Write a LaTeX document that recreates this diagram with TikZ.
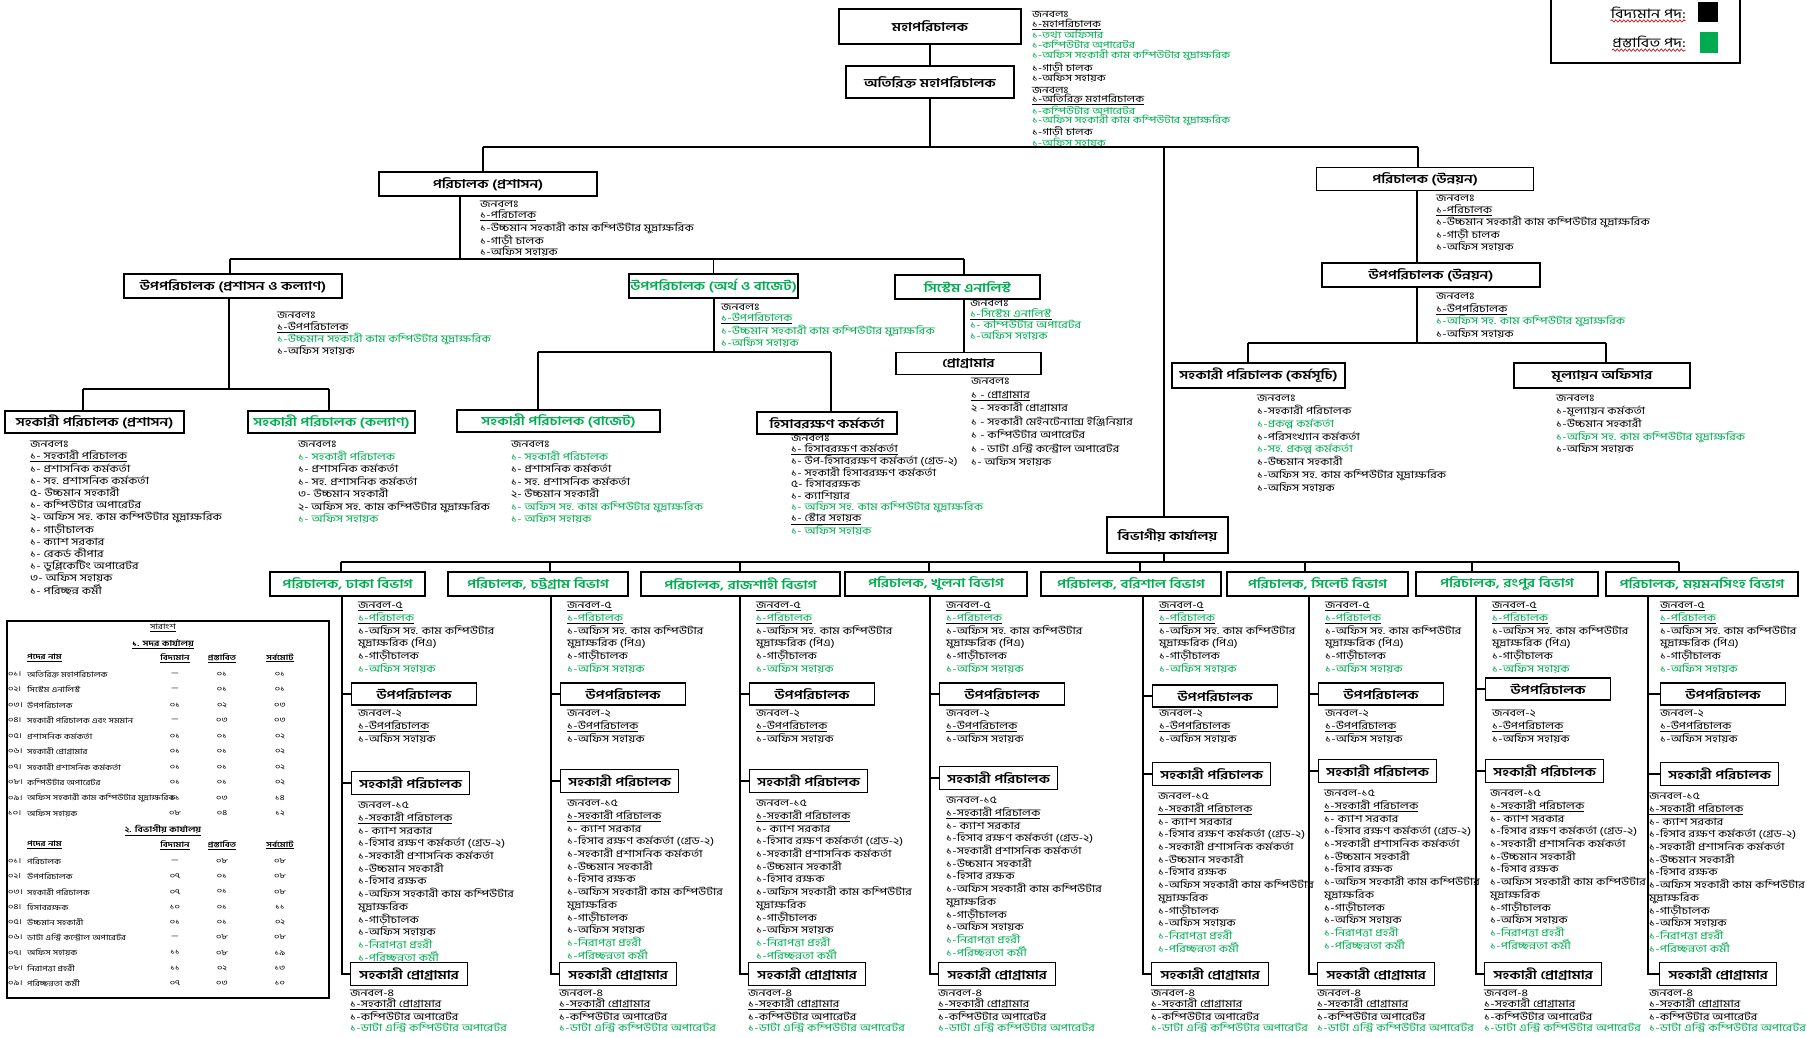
\documentclass[tikz,border=0pt]{standalone}
\usepackage{fontspec}
\setmainfont[Script=Bengali, FakeStretch=1.25]{Hind Siliguri}
\usetikzlibrary{positioning,decorations.pathmorphing}
\definecolor{ngreen}{RGB}{0,170,80}
\newcommand\grn[1]{\textcolor{ngreen}{#1}}

\tikzset{
  post/.style={draw, line width=1.4pt, inner sep=1pt, font=\fontsize{12}{13}\selectfont\bfseries},
  newpost/.style={post, text=ngreen},
  staff/.style={anchor=north west, align=left, inner sep=0pt, font=\fontsize{10}{12.7}\selectfont},
  tightstaff/.style={staff, font=\fontsize{9.5}{10}\selectfont},
  link/.style={line width=1.3pt},
  tblcell/.style={inner sep=0pt, font=\fontsize{7.5}{9}\selectfont},
}

\begin{document}
\begin{tikzpicture}[x=1pt, y=-1pt]
\useasboundingbox (0,0) rectangle (1807,1038);

% legend
\node[draw, line width=2.2pt, minimum width=189pt, minimum height=75pt, inner sep=0pt] (legend) at (1645.5,25.5) {};
\node[tblcell, anchor=east, font=\fontsize{13}{14}\selectfont] (oldlbl) at (1686,13) {বিদ্যমান পদ:};
\node[fill=black, minimum size=20pt, inner sep=0pt] (oldkey) at (1708,12) {};
\node[tblcell, anchor=east, font=\fontsize{13}{14}\selectfont] (newlbl) at (1686,42) {প্রস্তাবিত পদ:};
\node[fill=ngreen, minimum width=18pt, minimum height=21pt, inner sep=0pt] (newkey) at (1709,42.5) {};
\draw[red!75!black, line width=0.6pt, decorate, decoration={snake, amplitude=1.2pt, segment length=4pt}]
  ([yshift=-2pt]oldlbl.south west) -- ([yshift=-2pt]oldlbl.south east);
\draw[red!75!black, line width=0.6pt, decorate, decoration={snake, amplitude=1.2pt, segment length=4pt}]
  ([yshift=-2pt]newlbl.south west) -- ([yshift=-2pt]newlbl.south east);

% head office
\node[post, minimum width=182pt, minimum height=35pt, font=\fontsize{12}{13}\selectfont\bfseries] (dg) at (930,26.5) {মহাপরিচালক};
\node[post, minimum width=168pt, minimum height=32pt, font=\fontsize{12}{13}\selectfont\bfseries] (adg) at (930,82) {অতিরিক্ত মহাপরিচালক};
\node[tightstaff] (dgstaff) at (1032,11) {জনবলঃ\\ \underline{১-মহাপরিচালক}\\ \grn{১-তথ্য অফিসার}\\ \grn{১-কম্পিউটার অপারেটর}\\ \grn{১-অফিস সহকারী কাম কম্পিউটার মুদ্রাক্ষরিক}\\ ১-গাড়ী চালক\\ ১-অফিস সহায়ক};
\node[tightstaff, font=\fontsize{9.5}{9.2}\selectfont] (adgstaff) at (1032,87) {জনবলঃ\\ \underline{১-অতিরিক্ত মহাপরিচালক}\\ \grn{১-কম্পিউটার অপারেটর}\\ \grn{১-অফিস সহকারী কাম কম্পিউটার মুদ্রাক্ষরিক}\\ ১-গাড়ী চালক\\ \grn{১-অফিস সহায়ক}};

\node[post, minimum width=218pt, minimum height=24pt] (diradm) at (488,184) {পরিচালক (প্রশাসন)};
\node[post, minimum width=217pt, minimum height=23pt] (dirdev) at (1425,179) {পরিচালক (উন্নয়ন)};
\node[staff, font=\fontsize{10}{11}\selectfont] (diradmstaff) at (480,201) {জনবলঃ\\ \underline{১-পরিচালক}\\ ১-উচ্চমান সহকারী কাম কম্পিউটার মুদ্রাক্ষরিক\\ ১-গাড়ী চালক\\ ১-অফিস সহায়ক};
\node[staff, font=\fontsize{10}{11.5}\selectfont] (dirdevstaff) at (1436,195) {জনবলঃ\\ \underline{১-পরিচালক}\\ ১-উচ্চমান সহকারী কাম কম্পিউটার মুদ্রাক্ষরিক\\ ১-গাড়ী চালক\\ ১-অফিস সহায়ক};

\node[post, minimum width=218pt, minimum height=24pt] (depadm) at (233,286) {উপপরিচালক (প্রশাসন ও কল্যাণ)};
\node[newpost, minimum width=169pt, minimum height=24pt] (depfin) at (713.5,286) {উপপরিচালক (অর্থ ও বাজেট)};
\node[newpost, minimum width=145pt, minimum height=24pt] (sysan) at (967.5,287) {সিস্টেম এনালিস্ট};
\node[post, minimum width=145pt, minimum height=22pt] (prog) at (968.5,363.5) {প্রোগ্রামার};
\node[post, minimum width=218pt, minimum height=24pt] (depdev) at (1431,275) {উপপরিচালক (উন্নয়ন)};

\node[staff, font=\fontsize{10}{12}\selectfont] (depadmstaff) at (277,312) {জনবলঃ\\ \underline{১-উপপরিচালক}\\ \grn{১-উচ্চমান সহকারী কাম কম্পিউটার মুদ্রাক্ষরিক}\\ ১-অফিস সহায়ক};
\node[staff, font=\fontsize{10}{11}\selectfont] (depfinstaff) at (721,304) {জনবলঃ\\ \underline{\grn{১-উপপরিচালক}}\\ \grn{১-উচ্চমান সহকারী কাম কম্পিউটার মুদ্রাক্ষরিক}\\ \grn{১-অফিস সহায়ক}};
\node[staff, font=\fontsize{10}{11}\selectfont] (sysanstaff) at (970,300) {জনবলঃ\\ \underline{\grn{১-সিস্টেম এনালিস্ট}}\\ \grn{১- কম্পিউটার অপারেটর}\\ \grn{১-অফিস সহায়ক}};
\node[staff, font=\fontsize{10}{13.5}\selectfont] (progstaff) at (971,378) {জনবলঃ\\ \underline{১ - প্রোগ্রামার}\\ ২ - সহকারী প্রোগ্রামার\\ ১ - সহকারী মেইনটেন্যান্স ইঞ্জিনিয়ার\\ ১ - কম্পিউটার অপারেটর\\ ১ - ডাটা এন্ট্রি কন্ট্রোল অপারেটর\\ ১- অফিস সহায়ক};
\node[staff, font=\fontsize{10}{12.5}\selectfont] (depdevstaff) at (1436,293) {জনবলঃ\\ \underline{১-উপপরিচালক}\\ \grn{১-অফিস সহ. কাম কম্পিউটার মুদ্রাক্ষরিক}\\ ১-অফিস সহায়ক};

\node[post, minimum width=179pt, minimum height=22pt] (asadm) at (94.5,422) {সহকারী পরিচালক (প্রশাসন)};
\node[newpost, minimum width=167pt, minimum height=22pt] (aswel) at (331.5,422) {সহকারী পরিচালক (কল্যাণ)};
\node[newpost, minimum width=203pt, minimum height=22pt] (asbud) at (558.5,421) {সহকারী পরিচালক (বাজেট)};
\node[post, minimum width=140pt, minimum height=22pt] (acct) at (827,423) {হিসাবরক্ষণ কর্মকর্তা};
\node[post, minimum width=173pt, minimum height=25pt] (asprg) at (1258.5,375.5) {সহকারী পরিচালক (কর্মসূচি)};
\node[post, minimum width=176pt, minimum height=25pt] (evoff) at (1602,375.5) {মূল্যায়ন অফিসার};

\node[staff, font=\fontsize{10}{12.2}\selectfont] (asadmstaff) at (30,441) {জনবলঃ\\ \underline{১- সহকারী পরিচালক}\\ ১- প্রশাসনিক কর্মকর্তা\\ ১- সহ. প্রশাসনিক কর্মকর্তা\\ ৫- উচ্চমান সহকারী\\ ১- কম্পিউটার অপারেটর\\ ২- অফিস সহ. কাম কম্পিউটার মুদ্রাক্ষরিক\\ ১- গাড়ীচালক\\ ১- ক্যাশ সরকার\\ ১- রেকর্ড কীপার\\ ১- ডুপ্লিকেটিং অপারেটর\\ ৩- অফিস সহায়ক\\ ১- পরিচ্ছন্ন কর্মী};
\node[staff, font=\fontsize{10}{12.5}\selectfont] (aswelstaff) at (298,441) {জনবলঃ\\ \grn{১- সহকারী পরিচালক}\\ ১- প্রশাসনিক কর্মকর্তা\\ ১- সহ. প্রশাসনিক কর্মকর্তা\\ ৩- উচ্চমান সহকারী\\ ২- অফিস সহ. কাম কম্পিউটার মুদ্রাক্ষরিক\\ \grn{১- অফিস সহায়ক}};
\node[staff, font=\fontsize{10}{12.5}\selectfont] (asbudstaff) at (511,441) {জনবলঃ\\ \grn{১- সহকারী পরিচালক}\\ ১- প্রশাসনিক কর্মকর্তা\\ ১- সহ. প্রশাসনিক কর্মকর্তা\\ ২- উচ্চমান সহকারী\\ \grn{১- অফিস সহ. কাম কম্পিউটার মুদ্রাক্ষরিক}\\ \grn{১- অফিস সহায়ক}};
\node[staff, font=\fontsize{10}{11.3}\selectfont] (acctstaff) at (791,435) {জনবলঃ\\ \underline{১- হিসাবরক্ষণ কর্মকর্তা}\\ ১- উপ-হিসাবরক্ষণ কর্মকর্তা (গ্রেড-২)\\ ১- সহকারী হিসাবরক্ষণ কর্মকর্তা\\ ৫- হিসাবরক্ষক\\ ১- ক্যাশিয়ার\\ \grn{১- অফিস সহ. কাম কম্পিউটার মুদ্রাক্ষরিক}\\ \underline{১- স্টোর সহায়ক}\\ \grn{১- অফিস সহায়ক}};
\node[staff, font=\fontsize{10}{12.8}\selectfont] (asprgstaff) at (1257,395) {জনবলঃ\\ ১-সহকারী পরিচালক\\ \grn{১-প্রকল্প কর্মকর্তা}\\ ১-পরিসংখ্যান কর্মকর্তা\\ \grn{১-সহ. প্রকল্প কর্মকর্তা}\\ ১-উচ্চমান সহকারী\\ ১-অফিস সহ. কাম কম্পিউটার মুদ্রাক্ষরিক\\ ১-অফিস সহায়ক};
\node[staff, font=\fontsize{10}{12.8}\selectfont] (evoffstaff) at (1556,395) {জনবলঃ\\ ১-মূল্যায়ন কর্মকর্তা\\ ১-উচ্চমান সহকারী\\ \grn{১-অফিস সহ. কাম কম্পিউটার মুদ্রাক্ষরিক}\\ ১-অফিস সহায়ক};

% connectors of head office
\coordinate (busL) at (483,147);
\coordinate (busR) at (1418,147);
\coordinate (busD) at (1164,147);
\draw[link] (dg) -- (adg);
\draw[link] (adg) -- (adg |- busL);
\draw[link] (busL) -- (busR);
\draw[link] (busL) -- (busL |- diradm.north);
\draw[link] (busR) -- (busR |- dirdev.north);

\coordinate (admbus) at (460,259);
\coordinate (admbusL) at (230,259);
\coordinate (admbusR) at (964,259);
\draw[link] (admbus |- diradm.south) -- (admbus);
\draw[link] (admbusL) -- (admbusR);
\draw[link] (admbusL) -- (admbusL |- depadm.north);
\draw[link] (depfin.north) -- (depfin.north |- admbusL);
\draw[link] (admbusR) -- (admbusR |- sysan.north);
\draw[link] (admbusR |- sysan.south) -- (admbusR |- prog.north);

\coordinate (depbus) at (229,389);
\coordinate (depbusL) at (83,389);
\coordinate (depbusR) at (329,389);
\draw[link] (depbus |- depadm.south) -- (depbus);
\draw[link] (depbusL) -- (depbusR);
\draw[link] (depbusL) -- (depbusL |- asadm.north);
\draw[link] (depbusR) -- (depbusR |- aswel.north);

\coordinate (finbus) at (714,352);
\coordinate (finbusL) at (538,352);
\coordinate (finbusR) at (831,352);
\draw[link] (finbus |- depfin.south) -- (finbus);
\draw[link] (finbusL) -- (finbusR);
\draw[link] (finbusL) -- (finbusL |- asbud.north);
\draw[link] (finbusR) -- (finbusR |- acct.north);

\coordinate (devbus) at (1417,343);
\coordinate (devbusL) at (1248,343);
\coordinate (devbusR) at (1606,343);
\draw[link] (devbus |- dirdev.south) -- (devbus |- depdev.north);
\draw[link] (devbus |- depdev.south) -- (devbus);
\draw[link] (devbusL) -- (devbusR);
\draw[link] (devbusL) -- (devbusL |- asprg.north);
\draw[link] (devbusR) -- (devbusR |- evoff.north);

% divisional offices
\node[post, minimum width=121pt, minimum height=36pt] (divoff) at (1167.5,535) {বিভাগীয় কার্যালয়};
\coordinate (divbusL) at (341,562);
\coordinate (divbusR) at (1679,562);
\draw[link] (busD) -- (busD |- divoff.north);
\draw[link] (busD |- divoff.south) -- (busD |- divbusL);
\draw[link] (divbusL) -- (divbusR);

\foreach \nm/\lbl/\cx/\w/\drop/\sp/\dy/\ay/\bo/\so/\ao/\po in {
  dhaka/ঢাকা/347.5/155/341/342/694/783/9/16/16/8,
  ctg/চট্টগ্রাম/538/180/550/551/694/781/9/16/16/8,
  raj/রাজশাহী/740.5/199/740/740/694/781/9/16/16/8,
  khu/খুলনা/936/182/929/930/694/778/9/16/16/8,
  bar/বরিশাল/1131/180/1140/1143/696/774/9/16/15/8,
  syl/সিলেট/1317.5/181/1305/1309/694/771/9/16/15/8,
  ran/রংপুর/1507/182/1472/1476/689/771/9/16/14/8,
  mym/ময়মনসিংহ/1702/192/1679/1648/694/774/12/12/1/1}{
  \node[newpost, minimum width=\w pt, minimum height=24pt] (\nm) at (\cx,584) {পরিচালক, \lbl\ বিভাগ};
  \coordinate (drop\nm) at (\drop,562);
  \coordinate (spine\nm) at (\sp,562);
  \draw[link] (drop\nm) -- (drop\nm |- \nm.north);
  \node[post, anchor=west, minimum width=125pt, minimum height=22pt] (dep\nm) at (\sp+\bo,\dy) {উপপরিচালক};
  \node[post, anchor=west, minimum width=118pt, minimum height=23pt] (ad\nm) at (\sp+\bo,\ay) {সহকারী পরিচালক};
  \node[post, anchor=west, minimum width=117pt, minimum height=23pt] (ap\nm) at (\sp+\bo-1,974) {সহকারী প্রোগ্রামার};
  \draw[link] (spine\nm |- \nm.south) |- (ap\nm.west);
  \draw[link] (spine\nm |- dep\nm.west) -- (dep\nm.west);
  \draw[link] (spine\nm |- ad\nm.west) -- (ad\nm.west);
  \node[staff] (staff\nm) at (\sp+\so,602) {\underline{জনবল-৫}\\ \underline{\grn{১-পরিচালক}}\\ ১-অফিস সহ. কাম কম্পিউটার\\ মুদ্রাক্ষরিক (পিএ)\\ ১-গাড়ীচালক\\ \grn{১-অফিস সহায়ক}};
  \node[staff] (depstaff\nm) at (\sp+\so,710) {জনবল-২\\ \underline{১-উপপরিচালক}\\ ১-অফিস সহায়ক};
  \node[staff] (adstaff\nm) at (\sp+\ao,\ay+19) {জনবল-১৫\\ \underline{১-সহকারী পরিচালক}\\ ১- ক্যাশ সরকার\\ ১-হিসাব রক্ষণ কর্মকর্তা (গ্রেড-২)\\ ১-সহকারী প্রশাসনিক কর্মকর্তা\\ ১-উচ্চমান সহকারী\\ ১-হিসাব রক্ষক\\ ১-অফিস সহকারী কাম কম্পিউটার\\ মুদ্রাক্ষরিক\\ ১-গাড়ীচালক\\ ১-অফিস সহায়ক\\ \grn{১-নিরাপত্তা প্রহরী}\\ \grn{১-পরিচ্ছন্নতা কর্মী}};
  \node[staff, font=\fontsize{10}{11}\selectfont] (apstaff\nm) at (\sp+\po,990) {জনবল-৪\\ \underline{১-সহকারী প্রোগ্রামার}\\ ১-কম্পিউটার অপারেটর\\ \grn{১-ডাটা এন্ট্রি কম্পিউটার অপারেটর}};
}

% summary table
\node[draw, line width=1.6pt, minimum width=322pt, minimum height=377pt, inner sep=0pt] (summary) at (168,809.5) {};
\node[tblcell] (sumtitle) at (163,628) {\underline{সারাংশ}};
\node[tblcell, font=\fontsize{8}{9}\selectfont\bfseries] (hqtitle) at (163,644) {\underline{১. সদর কার্যালয়}};
\node[tblcell, anchor=west, font=\fontsize{7.5}{9}\selectfont\bfseries] (hqpost) at (27,658) {\underline{পদের নাম}};
\node[tblcell, font=\fontsize{7.5}{9}\selectfont\bfseries] (hqold) at (175,658) {\underline{বিদ্যমান}};
\node[tblcell, font=\fontsize{7.5}{9}\selectfont\bfseries] (hqnew) at (222,658) {\underline{প্রস্তাবিত}};
\node[tblcell, font=\fontsize{7.5}{9}\selectfont\bfseries] (hqall) at (280,658) {\underline{সর্বমোট}};
\foreach \no/\name/\a/\b/\c [count=\i] in {
  ০১/অতিরিক্ত মহাপরিচালক/---/০১/০১,
  ০২/সিস্টেম এনালিস্ট/---/০১/০১,
  ০৩/উপপরিচালক/০১/০২/০৩,
  ০৪/সহকারী পরিচালক এবং সমমান/---/০৩/০৩,
  ০৫/প্রশাসনিক কর্মকর্তা/০১/০১/০২,
  ০৬/সহকারী প্রোগ্রামার/০১/০১/০২,
  ০৭/সহকারী প্রশাসনিক কর্মকর্তা/০১/০১/০২,
  ০৮/কম্পিউটার অপারেটর/০১/০১/০২,
  ০৯/অফিস সহকারী কাম কম্পিউটার মুদ্রাক্ষরিক/১১/০৩/১৪,
  ১০/অফিস সহায়ক/০৮/০৪/১২}{
  \pgfmathsetmacro\ry{674+(\i-1)*15.5}
  \node[tblcell, anchor=west] (hqno\i) at (8,\ry) {\no।};
  \node[tblcell, anchor=west] (hqname\i) at (27,\ry) {\name};
  \node[tblcell] (hqold\i) at (175,\ry) {\a};
  \node[tblcell] (hqnew\i) at (222,\ry) {\b};
  \node[tblcell] (hqall\i) at (280,\ry) {\c};
}
\node[tblcell, font=\fontsize{8}{9}\selectfont\bfseries] (dvtitle) at (163,830) {\underline{২. বিভাগীয় কার্যালয়}};
\node[tblcell, anchor=west, font=\fontsize{7.5}{9}\selectfont\bfseries] (dvpost) at (27,845) {\underline{পদের নাম}};
\node[tblcell, font=\fontsize{7.5}{9}\selectfont\bfseries] (dvold) at (175,845) {\underline{বিদ্যমান}};
\node[tblcell, font=\fontsize{7.5}{9}\selectfont\bfseries] (dvnew) at (222,845) {\underline{প্রস্তাবিত}};
\node[tblcell, font=\fontsize{7.5}{9}\selectfont\bfseries] (dvall) at (280,845) {\underline{সর্বমোট}};
\foreach \no/\name/\a/\b/\c [count=\i] in {
  ০১/পরিচালক/---/০৮/০৮,
  ০২/উপপরিচালক/০৭/০১/০৮,
  ০৩/সহকারী পরিচালক/০৭/০১/০৮,
  ০৪/হিসাবরক্ষক/১০/০১/১১,
  ০৫/উচ্চমান সহকারী/০১/০১/০২,
  ০৬/ডাটা এন্ট্রি কন্ট্রোল অপারেটর/---/০৮/০৮,
  ০৭/অফিস সহায়ক/১১/০৮/১৯,
  ০৮/নিরাপত্তা প্রহরী/১১/০২/১৩,
  ০৯/পরিচ্ছন্নতা কর্মী/০৭/০৩/১০}{
  \pgfmathsetmacro\ry{861+(\i-1)*15.3}
  \node[tblcell, anchor=west] (dvno\i) at (8,\ry) {\no।};
  \node[tblcell, anchor=west] (dvname\i) at (27,\ry) {\name};
  \node[tblcell] (dvold\i) at (175,\ry) {\a};
  \node[tblcell] (dvnew\i) at (222,\ry) {\b};
  \node[tblcell] (dvall\i) at (280,\ry) {\c};
}
\end{tikzpicture}
\end{document}
